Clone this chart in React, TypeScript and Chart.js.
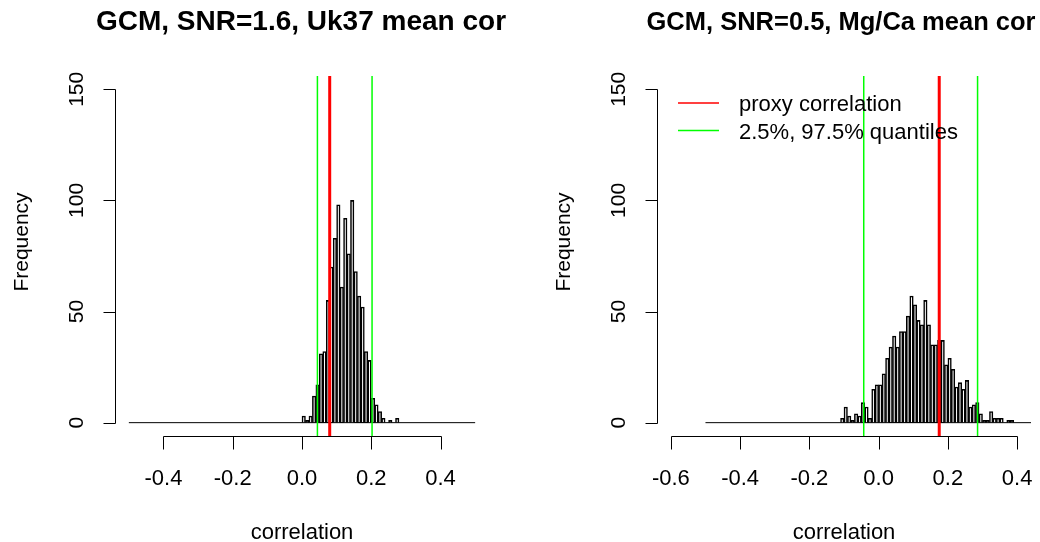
import React, { useEffect, useRef } from "react";
import { Chart, registerables } from "chart.js";

Chart.register(...registerables);

// ---------- data ----------
const binWidth = 0.01;
const histRange = [-0.5, 0.5];

const leftTitle = "GCM, SNR=1.6, Uk37 mean cor";
const leftFirstBin = 0.0;
const leftCounts = [3, 1, 3, 12, 17, 31, 32, 55, 70, 83, 98, 61, 92, 76, 100, 68, 57, 52, 32, 28, 11, 8, 5, 2, 0, 1, 0, 2];
const leftProxy = 0.08;
const leftQuantiles = [0.0445, 0.2023];
const leftXTicks = [-0.4, -0.2, 0.0, 0.2, 0.4];
const leftXRange = [-0.54, 0.54];

const rightTitle = "GCM, SNR=0.5, Mg/Ca mean cor";
const rightFirstBin = -0.11;
const rightCounts = [2, 7, 3, 1, 4, 3, 9, 7, 2, 15, 17, 17, 22, 29, 34, 39, 34, 41, 41, 48, 57, 53, 46, 44, 55, 44, 35, 35, 37, 37, 26, 29, 24, 16, 18, 15, 19, 7, 8, 9, 4, 1, 1, 5, 2, 2, 2, 0, 1, 1];
const rightProxy = 0.175;
const rightQuantiles = [-0.043, 0.2857];
const rightXTicks = [-0.6, -0.4, -0.2, 0.0, 0.2, 0.4];
const rightXRange = [-0.64, 0.44];

const yTicks = [0, 50, 100, 150];
const yRange = [-6, 156];
const xLabel = "correlation";
const yLabel = "Frequency";
const legendLabels = ["proxy correlation", "2.5%, 97.5% quantiles"];

const RED = "#ff0000";
const GREEN = "#00ff00";
const FONT = "'Liberation Sans', Arial, Helvetica, sans-serif";

type PanelCfg = {
  title: string;
  titleSize: number;
  titleShift: number;
  firstBin: number;
  counts: number[];
  proxy: number;
  quantiles: number[];
  xTicks: number[];
  xRange: number[];
  padding: { left: number; right: number; top: number; bottom: number };
  legend: boolean;
};

function rStylePlugin(cfg: PanelCfg) {
  return {
    id: "rstyle",
    afterDraw(chart: any) {
      const ctx = chart.ctx as CanvasRenderingContext2D;
      const xs = chart.scales.x;
      const ys = chart.scales.y;
      const a = chart.chartArea;
      ctx.save();
      ctx.strokeStyle = "#000";
      ctx.fillStyle = "#000";
      ctx.lineWidth = 1;

      // x axis
      const yAx = Math.round(a.bottom) + 0.5;
      const x1 = Math.round(xs.getPixelForValue(cfg.xTicks[0])) + 0.5;
      const x2 = Math.round(xs.getPixelForValue(cfg.xTicks[cfg.xTicks.length - 1])) + 0.5;
      ctx.beginPath();
      ctx.moveTo(x1, yAx);
      ctx.lineTo(x2, yAx);
      for (const t of cfg.xTicks) {
        const px = Math.round(xs.getPixelForValue(t)) + 0.5;
        ctx.moveTo(px, yAx);
        ctx.lineTo(px, yAx + 13);
      }
      ctx.stroke();
      ctx.font = `22px ${FONT}`;
      ctx.textAlign = "center";
      ctx.textBaseline = "alphabetic";
      for (const t of cfg.xTicks) {
        ctx.fillText(t.toFixed(1), xs.getPixelForValue(t), a.bottom + 49);
      }
      ctx.fillText(xLabel, (a.left + a.right) / 2, a.bottom + 103);

      // y axis
      const xAx = Math.round(a.left) + 0.5;
      const yTop = Math.round(ys.getPixelForValue(yTicks[yTicks.length - 1])) + 0.5;
      const yBot = Math.round(ys.getPixelForValue(yTicks[0])) + 0.5;
      ctx.beginPath();
      ctx.moveTo(xAx, yTop);
      ctx.lineTo(xAx, yBot);
      for (const t of yTicks) {
        const py = Math.round(ys.getPixelForValue(t)) + 0.5;
        ctx.moveTo(xAx, py);
        ctx.lineTo(xAx - 12, py);
      }
      ctx.stroke();
      ctx.font = `21px ${FONT}`;
      for (const t of yTicks) {
        ctx.save();
        ctx.translate(a.left - 32, ys.getPixelForValue(t));
        ctx.rotate(-Math.PI / 2);
        ctx.fillText(String(t), 0, 0);
        ctx.restore();
      }
      ctx.save();
      ctx.translate(a.left - 87, (a.top + a.bottom) / 2 - 14);
      ctx.rotate(-Math.PI / 2);
      ctx.fillText(yLabel, 0, 0);
      ctx.restore();

      // title
      ctx.font = `bold ${cfg.titleSize}px ${FONT}`;
      ctx.fillText(cfg.title, (a.left + a.right) / 2 + cfg.titleShift, 30);

      // legend
      if (cfg.legend) {
        const cols = [RED, GREEN];
        ctx.font = `22px ${FONT}`;
        ctx.textAlign = "left";
        cols.forEach((c, i) => {
          const ly = a.top + 27 + i * 27.5;
          ctx.strokeStyle = c;
          ctx.lineWidth = 1.6;
          ctx.beginPath();
          ctx.moveTo(a.left + 21, ly);
          ctx.lineTo(a.left + 62, ly);
          ctx.stroke();
          ctx.fillStyle = "#000";
          ctx.fillText(legendLabels[i], a.left + 82, ly + 8);
        });
      }
      ctx.restore();
    },
  };
}

function buildConfig(cfg: PanelCfg): any {
  const bars = cfg.counts.map((c, i) => ({ x: cfg.firstBin + (i + 0.5) * binWidth, y: c }));
  return {
    type: "bar",
    data: {
      datasets: [
        {
          type: "line",
          data: [
            { x: cfg.proxy, y: yRange[0] },
            { x: cfg.proxy, y: yRange[1] },
          ],
          borderColor: RED,
          borderWidth: 3,
          pointRadius: 0,
          order: 0,
        },
        ...cfg.quantiles.map((q) => ({
          type: "line",
          data: [
            { x: q, y: yRange[0] },
            { x: q, y: yRange[1] },
          ],
          borderColor: GREEN,
          borderWidth: 1.5,
          pointRadius: 0,
          order: 1,
        })),
        {
          type: "line",
          data: [
            { x: histRange[0], y: 0 },
            { x: histRange[1], y: 0 },
          ],
          borderColor: "#000",
          borderWidth: 1,
          pointRadius: 0,
          order: 2,
        },
        {
          type: "bar",
          data: bars,
          backgroundColor: "rgba(255,255,255,0)",
          borderColor: "#000",
          borderWidth: 0.9,
          barPercentage: 1,
          categoryPercentage: 1,
          order: 3,
        },
      ],
    },
    options: {
      animation: false,
      responsive: false,
      devicePixelRatio: 1,
      layout: { padding: cfg.padding },
      plugins: { legend: { display: false }, tooltip: { enabled: false }, title: { display: false } },
      scales: {
        x: { type: "linear", min: cfg.xRange[0], max: cfg.xRange[1], display: false, offset: false },
        y: { type: "linear", min: yRange[0], max: yRange[1], display: false },
      },
    },
    plugins: [rStylePlugin(cfg)],
  };
}

const leftCfg: PanelCfg = {
  title: leftTitle,
  titleSize: 28,
  titleShift: -1,
  firstBin: leftFirstBin,
  counts: leftCounts,
  proxy: leftProxy,
  quantiles: leftQuantiles,
  xTicks: leftXTicks,
  xRange: leftXRange,
  padding: { left: 115, right: 31, top: 76, bottom: 106 },
  legend: false,
};

const rightCfg: PanelCfg = {
  title: rightTitle,
  titleSize: 25.5,
  titleShift: -3,
  firstBin: rightFirstBin,
  counts: rightCounts,
  proxy: rightProxy,
  quantiles: rightQuantiles,
  xTicks: rightXTicks,
  xRange: rightXRange,
  padding: { left: 137, right: 9, top: 76, bottom: 106 },
  legend: true,
};

function Panel({ cfg, left }: { cfg: PanelCfg; left: number }) {
  const ref = useRef<HTMLCanvasElement>(null);
  useEffect(() => {
    const chart = new Chart(ref.current as HTMLCanvasElement, buildConfig(cfg));
    return () => chart.destroy();
  }, [cfg]);
  return (
    <canvas
      ref={ref}
      width={520}
      height={542}
      style={{ position: "absolute", left, top: 0, width: 520, height: 542 }}
    />
  );
}

export default function App() {
  return (
    <div style={{ position: "absolute", left: 0, top: 0, width: 1040, height: 542, background: "#fff", overflow: "hidden" }}>
      <Panel cfg={leftCfg} left={0} />
      <Panel cfg={rightCfg} left={520} />
    </div>
  );
}
